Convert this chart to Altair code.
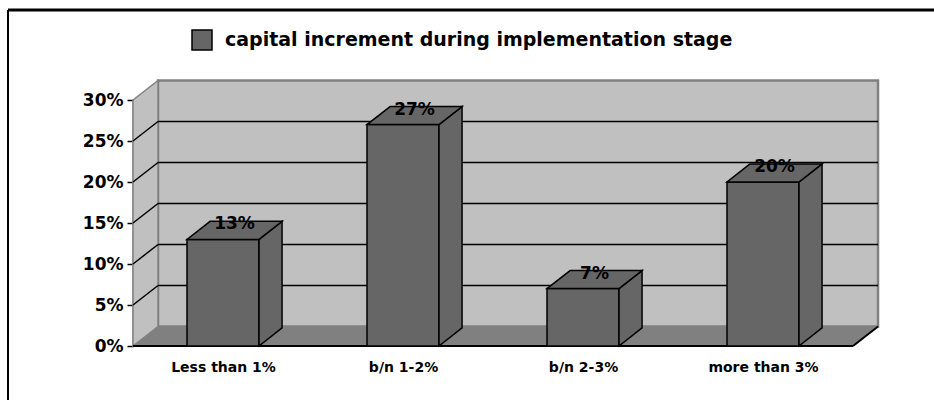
import json
import altair as alt
import pandas as pd

# ---------------- data ----------------
categories = ["Less than 1%", "b/n 1-2%", "b/n 2-3%", "more than 3%"]
values = [0.13, 0.27, 0.07, 0.20]
series_name = "capital increment during implementation stage"
y_ticks = [0, 0.05, 0.10, 0.15, 0.20, 0.25, 0.30]

# ---------------- geometry / style ----------------
N = len(categories)
Y_MAX = y_ticks[-1]
BAR_HALF = 0.2      # half bar width (category units)
BAR_DX = 0.128      # bar depth along x (category units)
BAR_DY = 0.022      # bar depth along y (value units)
WALL_DX = 0.139     # wall depth along x
WALL_DY = 0.0238    # wall depth along y
FONT = "DejaVu Sans"
BAR_FILL = "#666666"
WALL_FILL = "#c0c0c0"
FLOOR_FILL = "#808080"
EDGE_GRAY = "#808080"

xs = alt.Scale(domain=[0, N], range=[133, 853], nice=False, zero=False)
ys = alt.Scale(domain=[0, Y_MAX], range=[346, 100], nice=False, zero=False)


def X(f, **kw):
    return alt.X(f, type="quantitative", scale=xs, axis=None, **kw)


def Y(f, **kw):
    return alt.Y(f, type="quantitative", scale=ys, axis=None, stack=None, **kw)


# ---------------- tables built from the arrays ----------------
pos = [i + 0.5 for i in range(N)]
front = pd.DataFrame({
    "cat": categories,
    "series": [series_name] * N,
    "xl": [p - BAR_HALF for p in pos],
    "xr": [p + BAR_HALF for p in pos],
    "v": values,
    "zero": [0.0] * N,
    "lx": [p + BAR_DX / 2 for p in pos],
    "ly": [v + BAR_DY / 2 for v in values],
})

side_rows, top_rows = [], []
for c, p, v in zip(categories, pos, values):
    xr, xl = p + BAR_HALF, p - BAR_HALF
    side_rows += [
        {"cat": c, "x": xr, "y": v, "y2": 0.0},
        {"cat": c, "x": xr + BAR_DX, "y": v + BAR_DY, "y2": BAR_DY},
    ]
    top_rows += [
        {"cat": c, "y": v, "x": xl, "x2": xr},
        {"cat": c, "y": v + BAR_DY, "x": xl + BAR_DX, "x2": xr + BAR_DX},
    ]
side = pd.DataFrame(side_rows)
top = pd.DataFrame(top_rows)

back_wall = pd.DataFrame({"x": [WALL_DX], "x2": [N + WALL_DX],
                          "y": [WALL_DY], "y2": [Y_MAX + WALL_DY]})
floor = pd.DataFrame({"y": [0.0, WALL_DY], "x": [0.0, WALL_DX],
                      "x2": [float(N), N + WALL_DX]})
left_wall = pd.DataFrame({"x": [0.0, WALL_DX], "y": [Y_MAX, Y_MAX + WALL_DY],
                          "y2": [0.0, WALL_DY]})
inner = y_ticks[1:-1]
grid = pd.DataFrame({"x": [WALL_DX] * len(inner), "x2": [N + WALL_DX] * len(inner),
                     "y": [t + WALL_DY for t in inner]})
diag = pd.DataFrame({"x": [0.0] * len(inner), "x2": [WALL_DX] * len(inner),
                     "y": inner, "y2": [t + WALL_DY for t in inner]})
floor_edges = pd.DataFrame({"x": [0.0, float(N)], "x2": [float(N), N + WALL_DX],
                            "y": [0.0, 0.0], "y2": [0.0, WALL_DY]})

# ---------------- layers ----------------
wall_layer = alt.Chart(back_wall).mark_rect(
    fill=WALL_FILL, stroke=EDGE_GRAY, strokeWidth=2.5
).encode(
    x=X("x"), x2="x2",
    y=alt.Y("y", type="quantitative", scale=ys, stack=None,
            axis=alt.Axis(values=y_ticks, format=".0%", orient="left", offset=-133,
                          title=None, grid=False, tickSize=6, tickWidth=1.5,
                          tickColor="black", domainColor="black", domainWidth=1.5,
                          labelFont=FONT, labelFontSize=17, labelFontWeight="bold",
                          labelColor="black", labelPadding=4, labelFlush=False,
                          labelOverlap=False)),
    y2="y2",
)

floor_layer = alt.Chart(floor).mark_area(
    orient="horizontal", fill=FLOOR_FILL, stroke=None
).encode(y=Y("y"), x=X("x"), x2="x2")

left_layer = alt.Chart(left_wall).mark_area(
    orient="vertical", fill=WALL_FILL, stroke=EDGE_GRAY, strokeWidth=1.5
).encode(x=X("x"), y=Y("y"), y2="y2")

grid_layer = alt.Chart(grid).mark_rule(color="black", strokeWidth=1.5).encode(
    x=X("x"), x2="x2", y=Y("y"))

diag_layer = alt.Chart(diag).mark_rule(color="black", strokeWidth=1.5).encode(
    x=X("x"), x2="x2", y=Y("y"), y2="y2")

edge_layer = alt.Chart(floor_edges).mark_rule(color="black", strokeWidth=2).encode(
    x=X("x"), x2="x2", y=Y("y"), y2="y2")

label_expr = json.dumps(categories) + "[floor(datum.value)]"
front_layer = alt.Chart(front).mark_rect(stroke="black", strokeWidth=1.5).encode(
    x=alt.X("xl", type="quantitative", scale=xs,
            axis=alt.Axis(values=pos, labelExpr=label_expr, orient="bottom",
                          offset=-33, title=None, grid=False, domain=False,
                          ticks=False, tickSize=0, labelPadding=0,
                          labelBaseline="middle", labelFont=FONT, labelFontSize=14,
                          labelFontWeight="bold", labelColor="black",
                          labelFlush=False, labelOverlap=False)),
    x2="xr",
    y=Y("zero"), y2="v",
    color=alt.Color("series:N",
                    scale=alt.Scale(domain=[series_name], range=[BAR_FILL]),
                    legend=alt.Legend(orient="none", legendX=191, legendY=29,
                                      title=None, symbolType="square",
                                      symbolSize=400, symbolStrokeColor="black",
                                      symbolStrokeWidth=1.5, labelFont=FONT,
                                      labelFontSize=19, labelFontWeight="bold",
                                      labelColor="black", labelLimit=0,
                                      labelOffset=12, padding=0)),
)

side_layer = alt.Chart(side).mark_area(
    orient="vertical", fill=BAR_FILL, stroke="black", strokeWidth=1.5
).encode(x=X("x"), y=Y("y"), y2="y2", detail="cat:N")

top_layer = alt.Chart(top).mark_area(
    orient="horizontal", fill=BAR_FILL, stroke="black", strokeWidth=1.5
).encode(y=Y("y"), x=X("x"), x2="x2", detail="cat:N")

text_layer = alt.Chart(front).mark_text(
    font=FONT, fontSize=17, fontWeight="bold", color="black",
    align="center", baseline="middle", dy=-6
).encode(x=X("lx"), y=Y("ly"), text=alt.Text("v:Q", format=".0%"))

one = pd.DataFrame({"a": [0]})
border_left = alt.Chart(one).mark_rule(color="black", strokeWidth=2).encode(
    x=alt.value(8), y=alt.value(10), y2=alt.value(400))
border_top = alt.Chart(one).mark_rule(color="black", strokeWidth=3).encode(
    x=alt.value(8), x2=alt.value(934), y=alt.value(10))

chart = alt.layer(
    wall_layer, floor_layer, left_layer, grid_layer, diag_layer, edge_layer,
    front_layer, side_layer, top_layer, text_layer, border_left, border_top,
).resolve_axis(
    x="independent", y="independent"
).properties(
    width=934, height=400, padding=0,
    autosize=alt.AutoSizeParams(type="none"),
    background="white",
).configure_view(stroke=None)

chart.save("out.html", embed_options={"renderer": "svg", "actions": False})
